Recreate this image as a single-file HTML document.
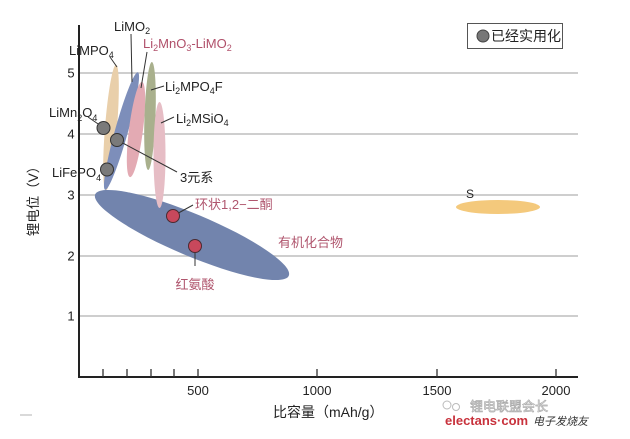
<!DOCTYPE html>
<html><head><meta charset="utf-8">
<style>
html,body{margin:0;padding:0;background:#fff;}
svg{display:block;}
text{font-family:"Liberation Sans","Noto Sans CJK SC",sans-serif;}
</style></head>
<body>
<svg width="630" height="439" viewBox="0 0 630 439" xmlns="http://www.w3.org/2000/svg">
<rect width="630" height="439" fill="#fff"/>
<!-- gridlines -->
<g stroke="#bdbdbd" stroke-width="1.5">
<line x1="79" y1="73" x2="578" y2="73"/>
<line x1="79" y1="134" x2="578" y2="134"/>
<line x1="79" y1="195" x2="578" y2="195"/>
<line x1="79" y1="256" x2="578" y2="256"/>
<line x1="79" y1="316" x2="578" y2="316"/>
</g>
<!-- ellipses -->
<ellipse cx="111" cy="127.5" rx="6" ry="63" transform="rotate(4.6 111 127.5)" fill="#e9cfaa"/>
<ellipse cx="121.5" cy="131" rx="6.5" ry="61" transform="rotate(15.6 121.5 131)" fill="#7d8eba"/>
<ellipse cx="136" cy="129.5" rx="7" ry="48" transform="rotate(7.2 136 129.5)" fill="#e3aab3"/>
<ellipse cx="150" cy="116" rx="5.5" ry="54" transform="rotate(2 150 116)" fill="#a9b08d"/>
<ellipse cx="192" cy="235" rx="105" ry="21" transform="rotate(22.8 192 235)" fill="#7284ad"/>
<ellipse cx="159.5" cy="155" rx="6" ry="53" fill="#e6bdc5"/>
<ellipse cx="498" cy="207" rx="42" ry="7" fill="#f4c97c"/>
<!-- axes -->
<g stroke="#222" stroke-width="2">
<line x1="79" y1="25" x2="79" y2="378"/>
<line x1="78" y1="377" x2="578" y2="377"/>
</g>
<g stroke="#333" stroke-width="1.3">
<line x1="103" y1="369" x2="103" y2="377"/>
<line x1="127" y1="369" x2="127" y2="377"/>
<line x1="151" y1="369" x2="151" y2="377"/>
<line x1="174" y1="369" x2="174" y2="377"/>
<line x1="198" y1="369" x2="198" y2="377"/>
<line x1="317" y1="369" x2="317" y2="377"/>
<line x1="437" y1="369" x2="437" y2="377"/>
<line x1="556" y1="369" x2="556" y2="377"/>
</g>
<!-- y tick labels -->
<g font-size="13" fill="#222" text-anchor="middle">
<text x="71" y="77.5">5</text>
<text x="71" y="138.5">4</text>
<text x="71" y="199.5">3</text>
<text x="71" y="260.5">2</text>
<text x="71" y="320.5">1</text>
<text x="198" y="395">500</text>
<text x="317" y="395">1000</text>
<text x="437" y="395">1500</text>
<text x="556" y="395">2000</text>
</g>
<!-- axis labels -->
<text x="273" y="417" font-size="14" fill="#222">比容量（mAh/g）</text>
<text transform="translate(38 198) rotate(-90)" font-size="13.5" fill="#222" text-anchor="middle">锂电位（V）</text>
<!-- leader lines -->
<g stroke="#333" stroke-width="1" fill="none">
<line x1="131" y1="34" x2="132" y2="82"/>
<line x1="147" y1="52" x2="141" y2="88"/>
<line x1="110" y1="57" x2="117" y2="67"/>
<line x1="151" y1="90" x2="164" y2="86"/>
<line x1="161" y1="123" x2="174" y2="117"/>
<line x1="88" y1="117" x2="104" y2="128"/>
<line x1="117" y1="140" x2="177" y2="172"/>
<line x1="173" y1="216" x2="193" y2="205"/>
<line x1="195" y1="246" x2="195" y2="266"/>
</g>
<!-- circles -->
<g fill="#7a7a7a" stroke="#333" stroke-width="1">
<circle cx="103.5" cy="128" r="6.5"/>
<circle cx="117" cy="140" r="6.5"/>
<circle cx="107" cy="169.5" r="6.5"/>
</g>
<g fill="#c8485c" stroke="#4a2a30" stroke-width="1">
<circle cx="173" cy="216" r="6.5"/>
<circle cx="195" cy="246" r="6.5"/>
</g>
<!-- labels -->
<g font-size="13" fill="#222">
<text x="114" y="31">LiMO<tspan font-size="9" dy="3">2</tspan></text>
<text x="69" y="55">LiMPO<tspan font-size="9" dy="3">4</tspan></text>
<text x="165" y="91">Li<tspan font-size="9" dy="3">2</tspan><tspan dy="-3">MPO</tspan><tspan font-size="9" dy="3">4</tspan><tspan dy="-3">F</tspan></text>
<text x="176" y="123">Li<tspan font-size="9" dy="3">2</tspan><tspan dy="-3">MSiO</tspan><tspan font-size="9" dy="3">4</tspan></text>
<text x="49" y="117">LiMn<tspan font-size="9" dy="4">2</tspan><tspan dy="-4">O</tspan><tspan font-size="9" dy="4">4</tspan></text>
<text x="52" y="177">LiFePO<tspan font-size="9" dy="4">4</tspan></text>
<text x="180" y="182">3元系</text>
<text x="466" y="198" font-size="12">S</text>
</g>
<text x="143" y="48" font-size="13" fill="#b0506a">Li<tspan font-size="9" dy="3">2</tspan><tspan dy="-3">MnO</tspan><tspan font-size="9" dy="3">3</tspan><tspan dy="-3">-LiMO</tspan><tspan font-size="9" dy="3">2</tspan></text>
<g font-size="13" fill="#b0566e">
<text x="195" y="209">环状1,2−二酮</text>
<text x="195" y="289" text-anchor="middle">红氨酸</text>
<text x="278" y="247">有机化合物</text>
</g>
<!-- legend -->
<rect x="467.5" y="23.5" width="95" height="25" fill="#fff" stroke="#555" stroke-width="1"/>
<circle cx="483" cy="36" r="6" fill="#777" stroke="#444" stroke-width="1"/>
<text x="491" y="41" font-size="14" fill="#222">已经实用化</text>
<!-- watermark -->
<line x1="20" y1="415" x2="32" y2="415" stroke="#ccc" stroke-width="1.5"/>
<text x="470" y="411" font-size="13" fill="#fff" stroke="#aaa" stroke-width="0.7">锂电联盟会长</text>
<circle cx="447" cy="405" r="4" fill="none" stroke="#bbb" stroke-width="1"/>
<circle cx="456" cy="407" r="3.5" fill="none" stroke="#bbb" stroke-width="1"/>
<text x="445" y="425" font-size="13" font-weight="bold" fill="#c8323c">electans·com</text>
<text x="533" y="425" font-size="11" font-style="italic" fill="#333">电子发烧友</text>
</svg>
</body></html>
